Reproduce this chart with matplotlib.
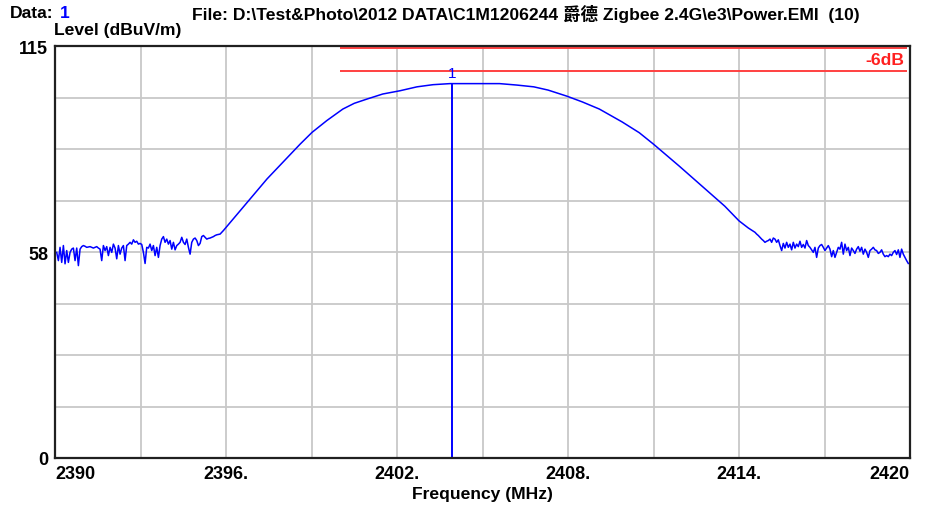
import numpy as np
import matplotlib
matplotlib.use("Agg")
import matplotlib.pyplot as plt

plt.rcParams['font.family'] = ['Liberation Sans', 'Noto Sans CJK TC', 'DejaVu Sans']

# ---- data ----
# noise floor below the channel (2390.06 .. 2395.91 MHz)
left_start, left_stop = 2390.06, 2395.91
left_level = [57.4, 55.1, 58.8, 54.6, 59.3, 54.2, 57.9, 54.6, 57.4, 58.3,
              58.6, 55.1, 58.6, 53.7, 58.3, 59.0, 59.3, 59.1, 58.8, 58.9,
              59.0, 58.8, 58.6, 58.8, 59.0, 58.6, 58.3, 55.1, 59.3, 57.9,
              59.0, 56.5, 58.8, 57.4, 59.7, 58.6, 55.6, 59.3, 56.9, 58.6,
              59.3, 55.1, 59.3, 59.7, 60.2, 59.7, 60.9, 60.2, 60.5, 59.7,
              59.9, 59.6, 57.4, 54.3, 58.8, 58.6, 59.7, 57.9, 59.3, 56.5,
              58.8, 56.0, 59.3, 61.1, 61.8, 60.2, 61.1, 59.7, 60.7, 58.3,
              60.2, 58.1, 59.3, 59.7, 60.2, 61.6, 60.2, 59.6, 61.1, 58.8,
              56.9, 60.2, 61.1, 61.4, 60.7, 59.3, 59.9, 61.8, 62.1, 61.6,
              61.1, 61.3, 61.4, 61.6, 61.8, 62.1, 62.3, 62.4, 62.5, 63.0,
              63.5]

# channel shape
main_freq = [2396.25, 2396.84, 2397.44, 2398.0, 2398.6, 2399.02, 2399.54, 2400.1,
             2400.5, 2400.95, 2401.5, 2402.1, 2402.7, 2403.26, 2403.86, 2404.46,
             2405.0, 2405.6, 2406.2, 2406.8, 2407.3, 2407.96, 2408.5, 2409.1,
             2409.9, 2410.5, 2411.0, 2411.5, 2411.9, 2412.4, 2412.9, 2413.5, 2414.0]
main_level = [66.7, 72.3, 77.9, 82.6, 87.6, 90.9, 94.2, 97.4,
              99.0, 100.2, 101.6, 102.5, 103.6, 104.2, 104.5, 104.5,
              104.5, 104.5, 104.1, 103.6, 102.7, 101.0, 99.4, 97.4,
              93.8, 90.8, 87.6, 84.2, 81.5, 78.0, 74.5, 70.3, 66.2]

# noise floor above the channel (2414.21 .. 2419.94 MHz)
right_start, right_stop = 2414.21, 2419.94
right_level = [64.9, 64.5, 64.2, 63.9, 63.6, 63.3, 63.0, 62.5, 62.1, 61.6,
               61.1, 60.7, 60.2, 60.5, 60.7, 61.1, 60.2, 61.4, 61.1, 60.2,
               60.9, 59.3, 57.9, 59.9, 58.6, 60.2, 58.8, 59.7, 58.1, 60.2,
               58.6, 59.7, 59.0, 60.5, 58.8, 59.6, 58.6, 60.7, 59.3, 58.8,
               58.1, 57.4, 58.8, 56.0, 58.6, 59.3, 59.6, 58.8, 57.9, 58.6,
               59.3, 58.3, 56.2, 57.9, 56.0, 57.4, 58.8, 58.3, 60.2, 56.9,
               59.7, 57.9, 58.8, 56.5, 58.6, 57.9, 57.1, 58.3, 59.0, 57.7,
               58.8, 56.9, 58.3, 57.4, 56.0, 57.9, 58.3, 58.8, 58.1, 57.9,
               57.1, 57.4, 58.1, 56.9, 56.2, 56.5, 56.2, 56.9, 56.5, 57.4,
               57.9, 56.8, 58.1, 56.0, 58.3, 56.9, 56.0, 55.1, 54.3]

marker_freq = 2403.93
marker_level = 104.5
limit_levels = [114.4, 108.0]
limit_start, limit_stop = 2400.0, 2419.9

x_ticks = [2390, 2396, 2402, 2408, 2414, 2420]
x_tick_labels = ['2390', '2396.', '2402.', '2408.', '2414.', '2420']
y_ticks = [0, 57.5, 115]
y_tick_labels = ['0', '58', '115']

# sweep points
left_freq = np.linspace(left_start, left_stop, len(left_level))
right_freq = np.linspace(right_start, right_stop, len(right_level))
freq = np.concatenate([left_freq, main_freq, right_freq])
level = np.concatenate([left_level, main_level, right_level])

fs = 12.6   # label font size
fig = plt.figure(figsize=(9.25, 5.06), dpi=100)
ax = fig.add_axes([55 / 925, 1 - 459 / 506, 855 / 925, 412 / 506])

# grid
for gx in np.arange(2390, 2421, 3):
    ax.axvline(gx, color='#c8c8c8', lw=1.3, zorder=1)
for gy in np.arange(0, 115.1, 115 / 8):
    ax.axhline(gy, color='#c8c8c8', lw=1.3, zorder=1)

# limit lines
for lv in limit_levels:
    ax.hlines(lv, limit_start, limit_stop, color='#ff4040', lw=1.4, zorder=2)
ax.text(2419.8, (limit_levels[0] + limit_levels[1]) / 2, '-6dB', color='#ff2020',
        fontsize=fs, fontweight='bold', ha='right', va='center', zorder=3)

# trace
ax.plot(freq, level, color='#0000ff', lw=1.1, zorder=3)

# marker
ax.vlines(marker_freq, 0, marker_level, color='#0000ff', lw=1.4, zorder=3)
ax.text(marker_freq, 107.4, '1', color='#0000ff', fontsize=11, ha='center',
        va='center', zorder=4)

ax.set_xlim(2390, 2420)
ax.set_ylim(0, 115)
ax.set_xticks(x_ticks)
ax.set_xticklabels(x_tick_labels, fontsize=13, fontweight='bold')
ax.set_yticks(y_ticks)
ax.set_yticklabels(y_tick_labels, fontsize=13, fontweight='bold')
ax.tick_params(length=0, pad=5)
xl = ax.get_xticklabels()
xl[0].set_ha('left')
xl[-1].set_ha('right')

for s in ax.spines.values():
    s.set_color('#202020')
    s.set_linewidth(1.6)
    s.set_zorder(5)

ax.set_xlabel('Frequency (MHz)', fontsize=fs, fontweight='bold', labelpad=3)

fig.text(10 / 925, 1 - 13.5 / 506, 'Data:', fontsize=fs, fontweight='bold',
         ha='left', va='center')
fig.text(60 / 925, 1 - 13.5 / 506, '1', fontsize=fs, fontweight='bold',
         color='#0000ff', ha='left', va='center')
fig.text(192 / 925, 1 - 13.5 / 506,
         'File: D:\\Test&Photo\\2012 DATA\\C1M1206244 爵德 Zigbee 2.4G\\e3\\Power.EMI  (10)',
         fontsize=fs, fontweight='bold', ha='left', va='center')
fig.text(54 / 925, 1 - 31 / 506, 'Level (dBuV/m)', fontsize=fs, fontweight='bold',
         ha='left', va='center')

fig.savefig('out.png', dpi=100, facecolor='white')
